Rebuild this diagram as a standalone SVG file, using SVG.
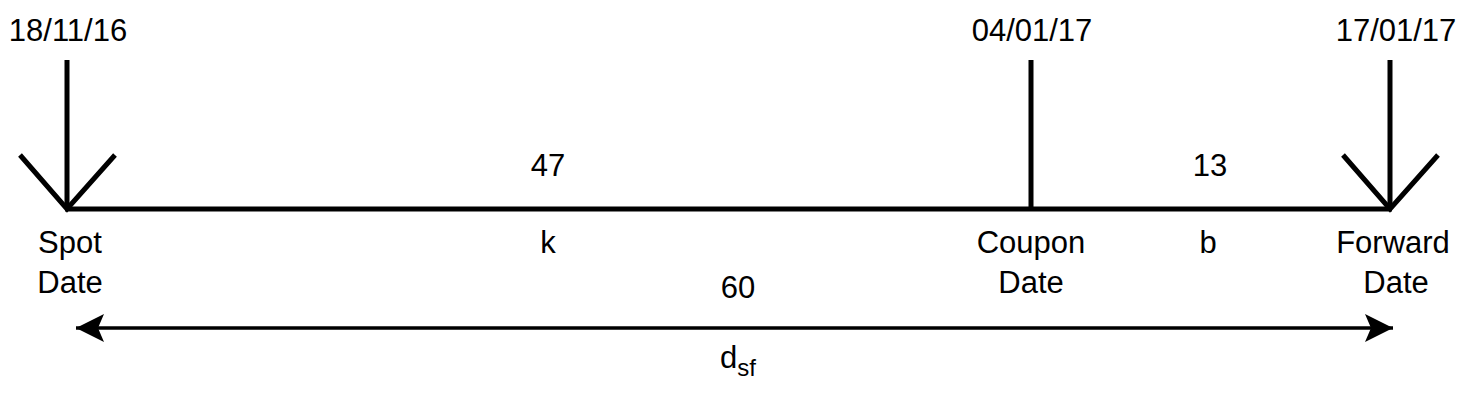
<svg xmlns="http://www.w3.org/2000/svg" width="1471" height="402" viewBox="0 0 1471 402">
<style>
text{font-family:"Liberation Sans",Arial,sans-serif;font-size:31px;fill:#000;text-anchor:middle}
.thick{stroke:#000;stroke-width:5;fill:none;stroke-linecap:butt}
.thin{stroke:#000;stroke-width:3.5;fill:none}
</style>
<defs>
<marker id="ah" viewBox="0 0 30 30" refX="28" refY="15" markerWidth="30" markerHeight="30" markerUnits="userSpaceOnUse" orient="auto-start-reverse">
<path d="M0,1 L28,15 L0,29 L6,15 Z" fill="#000"/>
</marker>
</defs>
<g id="connectors">
<line class="thick" x1="65" y1="209" x2="1392" y2="209"/>
<line id="dsf" class="thin" x1="76" y1="328" x2="1393" y2="328" marker-start="url(#ah)" marker-end="url(#ah)"/>
</g>
<g id="spot">
<line class="thick" x1="67" y1="60" x2="67" y2="209"/>
<polyline class="thick" points="20,155 67,209 115,155"/>
<text x="68" y="41">18/11/16</text>
<text x="70" y="253">Spot</text>
<text x="70" y="293">Date</text>
</g>
<g id="coupon">
<line class="thick" x1="1031" y1="60" x2="1031" y2="209"/>
<text x="1032" y="41">04/01/17</text>
<text x="1031" y="253">Coupon</text>
<text x="1031" y="293">Date</text>
</g>
<g id="forward">
<line class="thick" x1="1390" y1="60" x2="1390" y2="209"/>
<polyline class="thick" points="1343,155 1390,209 1438,155"/>
<text x="1396" y="41">17/01/17</text>
<text x="1393" y="253">Forward</text>
<text x="1396" y="293">Date</text>
</g>
<g id="labels">
<text x="548" y="176">47</text>
<text x="548" y="253">k</text>
<text x="1210" y="176">13</text>
<text x="1208" y="253">b</text>
<text x="738" y="298">60</text>
<text x="738" y="368">d<tspan font-size="24" dy="8">sf</tspan></text>
</g>
</svg>
